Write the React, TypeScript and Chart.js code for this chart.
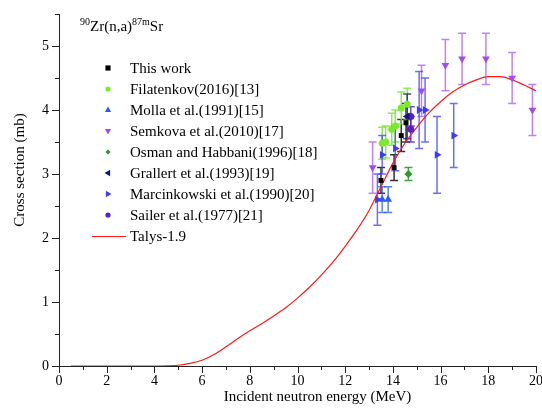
import React, { useEffect, useRef } from "react";
import { Chart, registerables } from "chart.js";

Chart.register(...registerables);

const FONT = "'Liberation Serif', 'Times New Roman', serif";

const xTitle = "Incident neutron energy (MeV)";
const yTitle = "Cross section (mb)";

const xTickValues = [0, 2, 4, 6, 8, 10, 12, 14, 16, 18, 20];
const xMinorTickValues = [1, 3, 5, 7, 9, 11, 13, 15, 17, 19];
const yTickValues = [0, 1, 2, 3, 4, 5];
const yMinorTickValues = [0.5, 1.5, 2.5, 3.5, 4.5, 5.5];

const talysEnergy = [0.5, 1, 2, 3, 4, 4.5, 5, 5.5, 6, 6.5, 7, 7.5, 8, 8.5, 9, 9.5, 10, 10.5, 11, 11.5, 12, 12.5, 13, 13.5, 14, 14.5, 15, 15.5, 16, 16.5, 17, 17.5, 18, 18.5, 19, 19.5, 20];
const talysXS = [0, 0, 0, 0, 0, 0.003, 0.012, 0.04, 0.09, 0.18, 0.3, 0.43, 0.55, 0.66, 0.78, 0.91, 1.06, 1.23, 1.42, 1.63, 1.87, 2.13, 2.43, 2.8, 3.17, 3.48, 3.73, 3.95, 4.13, 4.28, 4.39, 4.47, 4.52, 4.52, 4.47, 4.39, 4.3];

const thisWorkE = [13.5, 14.05, 14.35, 14.55];
const thisWorkXS = [2.9, 3.1, 3.6, 3.8];
const thisWorkErr = [0.2, 0.2, 0.25, 0.3];

const filatenkovE = [13.55, 13.7, 13.95, 14.1, 14.35, 14.6];
const filatenkovXS = [3.48, 3.5, 3.7, 3.75, 4.03, 4.09];
const filatenkovErr = [0.25, 0.25, 0.25, 0.25, 0.25, 0.25];

const mollaE = [13.55, 13.8];
const mollaXS = [2.6, 2.6];
const mollaErr = [0.2, 0.2];

const semkovaE = [13.15, 15.2, 16.2, 16.9, 17.9, 19.0, 19.85];
const semkovaXS = [3.1, 4.3, 4.7, 4.8, 4.8, 4.5, 4.0];
const semkovaErr = [0.4, 0.4, 0.4, 0.4, 0.4, 0.4, 0.4];

const osmanE = [14.65];
const osmanXS = [3.0];
const osmanErr = [0.1];

const grallertE = [14.6];
const grallertXS = [3.9];
const grallertErr = [0.35];

const marcinkowskiE = [13.35, 13.55, 14.1, 15.1, 15.35, 15.85, 16.55];
const marcinkowskiXS = [2.6, 3.3, 3.4, 4.0, 4.0, 3.3, 3.6];
const marcinkowskiErr = [0.4, 0.3, 0.35, 0.6, 0.5, 0.6, 0.5];

const sailerE = [14.75, 14.75];
const sailerXS = [3.9, 3.7];
const sailerErr = [0.15, 0.2];

type Series = {
  label: string;
  e: number[];
  xs: number[];
  err: number[];
  color: string;
  errColor: string;
  style: string;
  rotation: number;
  radius: number;
};

const series: Series[] = [
  { label: "This work", e: thisWorkE, xs: thisWorkXS, err: thisWorkErr, color: "#000000", errColor: "rgba(0,0,0,0.8)", style: "rect", rotation: 0, radius: 3.5 },
  { label: "Filatenkov(2016)[13]", e: filatenkovE, xs: filatenkovXS, err: filatenkovErr, color: "#78ec2c", errColor: "rgba(110,230,40,0.8)", style: "circle", rotation: 0, radius: 3.5 },
  { label: "Molla et al.(1991)[15]", e: mollaE, xs: mollaXS, err: mollaErr, color: "#2a5cf0", errColor: "rgba(40,90,240,0.75)", style: "triangle", rotation: 0, radius: 4.5 },
  { label: "Semkova et al.(2010)[17]", e: semkovaE, xs: semkovaXS, err: semkovaErr, color: "#a24cf0", errColor: "rgba(170,90,240,0.75)", style: "triangle", rotation: 180, radius: 4.5 },
  { label: "Osman and Habbani(1996)[18]", e: osmanE, xs: osmanXS, err: osmanErr, color: "#2a9a2a", errColor: "rgba(42,154,42,0.9)", style: "rectRot", rotation: 0, radius: 4 },
  { label: "Grallert et al.(1993)[19]", e: grallertE, xs: grallertXS, err: grallertErr, color: "#14147e", errColor: "rgba(20,20,126,0.8)", style: "triangle", rotation: 270, radius: 4.5 },
  { label: "Marcinkowski et al.(1990)[20]", e: marcinkowskiE, xs: marcinkowskiXS, err: marcinkowskiErr, color: "#3c3cf4", errColor: "rgba(60,60,244,0.75)", style: "triangle", rotation: 90, radius: 4.5 },
  { label: "Sailer et al.(1977)[21]", e: sailerE, xs: sailerXS, err: sailerErr, color: "#5a1ec4", errColor: "rgba(90,30,196,0.8)", style: "circle", rotation: 0, radius: 3.5 },
];

const talysLabel = "Talys-1.9";
const talysColor = "#ff1a1a";

function drawMarker(ctx: CanvasRenderingContext2D, style: string, rotation: number, x: number, y: number, r: number, color: string) {
  ctx.save();
  ctx.fillStyle = color;
  ctx.translate(x, y);
  ctx.rotate((rotation * Math.PI) / 180);
  ctx.beginPath();
  if (style === "rect") {
    ctx.rect(-r, -r, 2 * r, 2 * r);
  } else if (style === "circle") {
    ctx.arc(0, 0, r, 0, Math.PI * 2);
  } else if (style === "rectRot") {
    ctx.moveTo(0, -r);
    ctx.lineTo(r, 0);
    ctx.lineTo(0, r);
    ctx.lineTo(-r, 0);
    ctx.closePath();
  } else {
    ctx.moveTo(0, -r);
    ctx.lineTo(r * 0.9, r * 0.6);
    ctx.lineTo(-r * 0.9, r * 0.6);
    ctx.closePath();
  }
  ctx.fill();
  ctx.restore();
}

const errorBarPlugin = {
  id: "errorBars",
  beforeDatasetsDraw(chart: any) {
    const ctx = chart.ctx as CanvasRenderingContext2D;
    const xs = chart.scales.x;
    const ys = chart.scales.y;
    ctx.save();
    ctx.lineWidth = 1.5;
    series.forEach((s) => {
      ctx.strokeStyle = s.errColor;
      s.e.forEach((e, i) => {
        const px = xs.getPixelForValue(e);
        const top = ys.getPixelForValue(s.xs[i] + s.err[i]);
        const bot = ys.getPixelForValue(s.xs[i] - s.err[i]);
        ctx.beginPath();
        ctx.moveTo(px, top);
        ctx.lineTo(px, bot);
        ctx.moveTo(px - 4, top);
        ctx.lineTo(px + 4, top);
        ctx.moveTo(px - 4, bot);
        ctx.lineTo(px + 4, bot);
        ctx.stroke();
      });
    });
    ctx.restore();
  },
};

const axisDecorPlugin = {
  id: "axisDecor",
  afterDraw(chart: any) {
    const ctx = chart.ctx as CanvasRenderingContext2D;
    const xs = chart.scales.x;
    const ys = chart.scales.y;
    const area = chart.chartArea;
    ctx.save();
    ctx.strokeStyle = "#222";
    ctx.lineWidth = 1;
    ctx.beginPath();
    xTickValues.forEach((v) => {
      const p = Math.round(xs.getPixelForValue(v)) + 0.5;
      ctx.moveTo(p, area.bottom);
      ctx.lineTo(p, area.bottom + 7);
    });
    xMinorTickValues.forEach((v) => {
      const p = Math.round(xs.getPixelForValue(v)) + 0.5;
      ctx.moveTo(p, area.bottom);
      ctx.lineTo(p, area.bottom + 4);
    });
    yTickValues.forEach((v) => {
      const p = Math.round(ys.getPixelForValue(v)) + 0.5;
      ctx.moveTo(area.left, p);
      ctx.lineTo(area.left - 7, p);
    });
    yMinorTickValues.forEach((v) => {
      const p = Math.round(ys.getPixelForValue(v)) + 0.5;
      ctx.moveTo(area.left, p);
      ctx.lineTo(area.left - 4, p);
    });
    ctx.stroke();

    // axis titles
    ctx.fillStyle = "#000";
    ctx.font = `15px ${FONT}`;
    ctx.textAlign = "center";
    ctx.textBaseline = "middle";
    ctx.fillText(xTitle, (area.left + area.right) / 2 + 20, 397);
    ctx.translate(20, (area.top + area.bottom) / 2 - 20);
    ctx.rotate(-Math.PI / 2);
    ctx.fillText(yTitle, 0, 0);
    ctx.restore();
  },
};

const legendPlugin = {
  id: "customLegend",
  afterDraw(chart: any) {
    const ctx = chart.ctx as CanvasRenderingContext2D;
    ctx.save();
    ctx.fillStyle = "#000";
    ctx.textBaseline = "alphabetic";
    let x = 80;
    const base = 31;
    const parts: [string, boolean][] = [["90", true], ["Zr(n,a)", false], ["87m", true], ["Sr", false]];
    parts.forEach(([t, sup]) => {
      ctx.font = sup ? `10px ${FONT}` : `15px ${FONT}`;
      ctx.fillText(t, x, sup ? base - 6 : base);
      x += ctx.measureText(t).width;
    });
    ctx.font = `15px ${FONT}`;
    ctx.textBaseline = "middle";
    const y0 = 68;
    const step = 21;
    series.forEach((s, i) => {
      const y = y0 + i * step;
      drawMarker(ctx, s.style, s.rotation, 108, y, s.style === "triangle" ? 3.5 : 2.6, s.color);
      ctx.fillStyle = "#000";
      ctx.fillText(s.label, 130, y + 1);
    });
    const ty = y0 + series.length * step;
    ctx.strokeStyle = talysColor;
    ctx.lineWidth = 1;
    ctx.beginPath();
    ctx.moveTo(92, ty + 0.5);
    ctx.lineTo(126, ty + 0.5);
    ctx.stroke();
    ctx.fillStyle = "#000";
    ctx.fillText(talysLabel, 130, ty + 1);
    ctx.restore();
  },
};

export default function App() {
  const ref = useRef<HTMLCanvasElement | null>(null);
  useEffect(() => {
    if (!ref.current) return;
    const tickFont = { family: FONT, size: 14 };
    const datasets: any[] = series.map((s) => ({
      type: "scatter",
      label: s.label,
      data: s.e.map((e, i) => ({ x: e, y: s.xs[i] })),
      pointStyle: s.style,
      rotation: s.rotation,
      pointRadius: s.radius,
      pointBackgroundColor: s.color,
      pointBorderColor: s.color,
      pointBorderWidth: 0,
      showLine: false,
    }));
    datasets.push({
      type: "line",
      label: talysLabel,
      data: talysEnergy.map((e, i) => ({ x: e, y: talysXS[i] })),
      borderColor: talysColor,
      borderWidth: 1.2,
      pointRadius: 0,
      cubicInterpolationMode: "monotone",
      fill: false,
    });
    const chart = new Chart(ref.current, {
      type: "scatter",
      data: { datasets },
      plugins: [errorBarPlugin, axisDecorPlugin, legendPlugin],
      options: {
        responsive: true,
        maintainAspectRatio: false,
        animation: false,
        layout: { padding: { left: 0, top: 14, right: 6, bottom: 0 } },
        plugins: { legend: { display: false }, tooltip: { enabled: false } },
        scales: {
          x: {
            type: "linear",
            min: 0,
            max: 20,
            afterBuildTicks: (s: any) => {
              s.ticks = xTickValues.map((v) => ({ value: v }));
            },
            afterFit: (s: any) => {
              s.height = 46;
              s.paddingLeft = 0;
              s.paddingRight = 0;
            },
            ticks: { font: tickFont, color: "#000", padding: 7, maxRotation: 0, autoSkip: false },
            grid: { display: false, drawTicks: false },
            border: { display: true, color: "#222", width: 1 },
            title: { display: false },
          },
          y: {
            type: "linear",
            min: 0,
            max: 5.5,
            afterBuildTicks: (s: any) => {
              s.ticks = yTickValues.map((v) => ({ value: v }));
            },
            afterFit: (s: any) => {
              s.width = 59;
              s.paddingTop = 0;
              s.paddingBottom = 0;
            },
            ticks: { font: tickFont, color: "#000", padding: 10, autoSkip: false },
            grid: { display: false, drawTicks: false },
            border: { display: true, color: "#222", width: 1 },
            title: { display: false },
          },
        },
      } as any,
    });
    return () => chart.destroy();
  }, []);
  return (
    <div style={{ position: "fixed", left: 0, top: 0, width: 542, height: 412, background: "#fff" }}>
      <canvas ref={ref} />
    </div>
  );
}
